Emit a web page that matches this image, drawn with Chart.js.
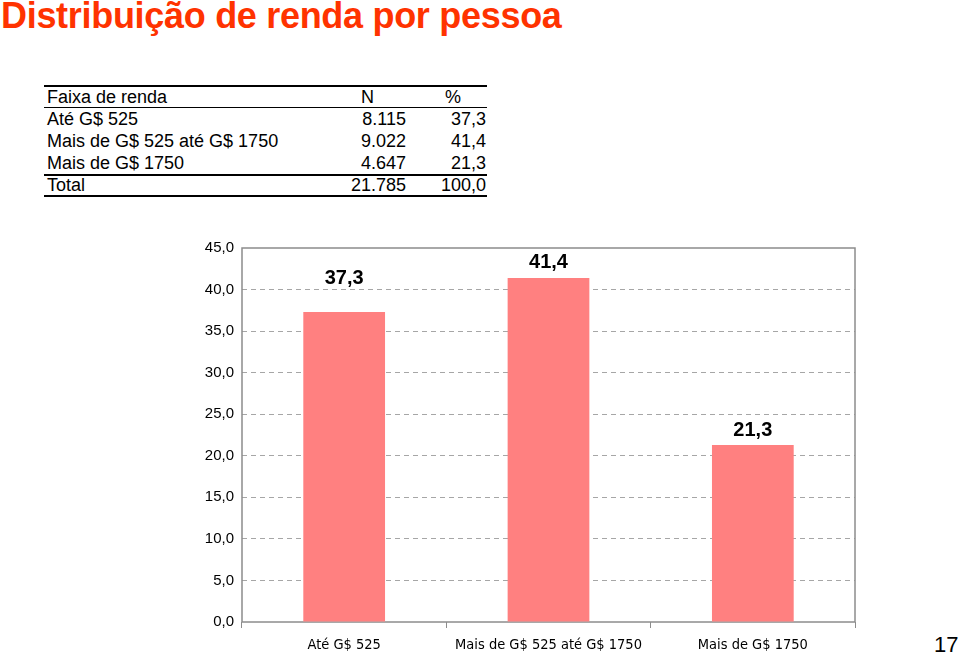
<!DOCTYPE html>
<html>
<head>
<meta charset="utf-8">
<script src="https://cdn.jsdelivr.net/npm/chart.js@4"></script>
<style>
  body { margin: 0; width: 960px; height: 655px; background: #fff; position: relative; overflow: hidden; font-family: Arial, 'Liberation Sans', sans-serif; }
  h1 { position: absolute; left: 1px; top: -2px; margin: 0; font-size: 36px; line-height: 36px; font-weight: bold; color: #ff3300; letter-spacing: -0.3px; }
  #tbl { position: absolute; left: 44px; top: 85px; width: 443px; border-collapse: collapse; font-size: 18px; color: #000; }
  #tbl td { padding: 0; height: 22px; line-height: 22px; }
  #tbl tr.head td { border-top: 2px solid #000; border-bottom: 1px solid #000; height: 20px; line-height: 20px; }
  #tbl tr.total td { border-top: 2px solid #000; border-bottom: 2px solid #000; height: 19px; line-height: 19px; }
  #tbl td.lbl { padding-left: 3px; width: 297px; }
  #tbl td.num { text-align: right; width: 62px; padding-right: 2px; }
  #tbl td.pct { text-align: right; padding-right: 1px; }
  #chartWrap { position: absolute; left: 190px; top: 231px; width: 680px; height: 424px; }
  #page { position: absolute; left: 934px; top: 632px; font-size: 22px; color: #000; }
</style>
</head>
<body>
<h1>Distribuição de renda por pessoa</h1>
<table id="tbl"></table>
<div id="chartWrap"><canvas id="myChart"></canvas></div>
<div id="page">17</div>
<script>
const faixas = ['Até G$ 525', 'Mais de G$ 525 até G$ 1750', 'Mais de G$ 1750'];
const nValues = ['8.115', '9.022', '4.647'];
const nTotal = '21.785';
const pctValues = [37.3, 41.4, 21.3];
const pctTotal = 100.0;
const yTicks = [0, 5, 10, 15, 20, 25, 30, 35, 40, 45];

function fmt(v) {
  return v.toFixed(1).replace('.', ',');
}

// tabela
const tbl = document.getElementById('tbl');
let html = '<tr class="head"><td class="lbl">Faixa de renda</td>' +
  '<td style="padding-left:17px">N</td><td style="padding-left:37px">%</td></tr>';
faixas.forEach(function(f, i) {
  html += '<tr><td class="lbl">' + f + '</td><td class="num">' + nValues[i] +
    '</td><td class="pct">' + fmt(pctValues[i]) + '</td></tr>';
});
html += '<tr class="total"><td class="lbl">Total</td><td class="num">' + nTotal +
  '</td><td class="pct">' + fmt(pctTotal) + '</td></tr>';
tbl.innerHTML = html;

// rotulos acima das barras (deslocamento em px, centro do texto)
const labelLift = [34, 15, 14];

const frame = {
  id: 'frame',
  beforeDatasetsDraw(chart) {
    const a = chart.chartArea;
    const ctx = chart.ctx;
    ctx.save();
    ctx.strokeStyle = '#8c8c8c';
    ctx.lineWidth = 1.5;
    ctx.strokeRect(a.left, a.top, a.right - a.left, a.bottom - a.top);
    ctx.restore();
  }
};

const barLabels = {
  id: 'barLabels',
  afterDatasetsDraw(chart) {
    const ctx = chart.ctx;
    const meta = chart.getDatasetMeta(0);
    ctx.save();
    ctx.font = 'bold 20px Arial, "Liberation Sans", sans-serif';
    ctx.fillStyle = '#000';
    ctx.textAlign = 'center';
    ctx.textBaseline = 'middle';
    meta.data.forEach(function(bar, i) {
      ctx.fillText(fmt(pctValues[i]), bar.x, bar.y - labelLift[i]);
    });
    ctx.restore();
  }
};

const ctx = document.getElementById('myChart').getContext('2d');
new Chart(ctx, {
  type: 'bar',
  data: {
    labels: faixas,
    datasets: [{
      data: pctValues,
      backgroundColor: '#ff8080',
      borderWidth: 0,
      barPercentage: 0.4,
      categoryPercentage: 1
    }]
  },
  options: {
    responsive: true,
    maintainAspectRatio: false,
    animation: false,
    layout: { padding: { top: 8, right: 15, left: 0, bottom: 0 } },
    plugins: { legend: { display: false }, tooltip: { enabled: false } },
    scales: {
      y: {
        min: 0,
        max: 45,
        afterFit(scale) { scale.width = 52; },
        afterBuildTicks(scale) { scale.ticks = yTicks.map(v => ({ value: v })); },
        ticks: {
          padding: 8,
          color: '#000',
          font: { family: 'Arial, "Liberation Sans", sans-serif', size: 15 },
          callback: v => fmt(v)
        },
        grid: {
          drawTicks: false,
          color: c => (c.tick && (c.tick.value === 0 || c.tick.value === 45)) ? 'rgba(0,0,0,0)' : '#a6a6a6',
          lineWidth: 1
        },
        border: { display: false, dash: [5, 4] }
      },
      x: {
        afterFit(scale) { scale.height = 33; },
        ticks: {
          padding: 9,
          color: '#000',
          font: { family: '"DejaVu Sans Condensed", Arial, sans-serif', size: 14.5 }
        },
        grid: {
          offset: true,
          drawOnChartArea: false,
          drawTicks: true,
          tickLength: 6,
          color: '#8c8c8c'
        },
        border: { display: false }
      }
    }
  },
  plugins: [frame, barLabels]
});
</script>
</body>
</html>
